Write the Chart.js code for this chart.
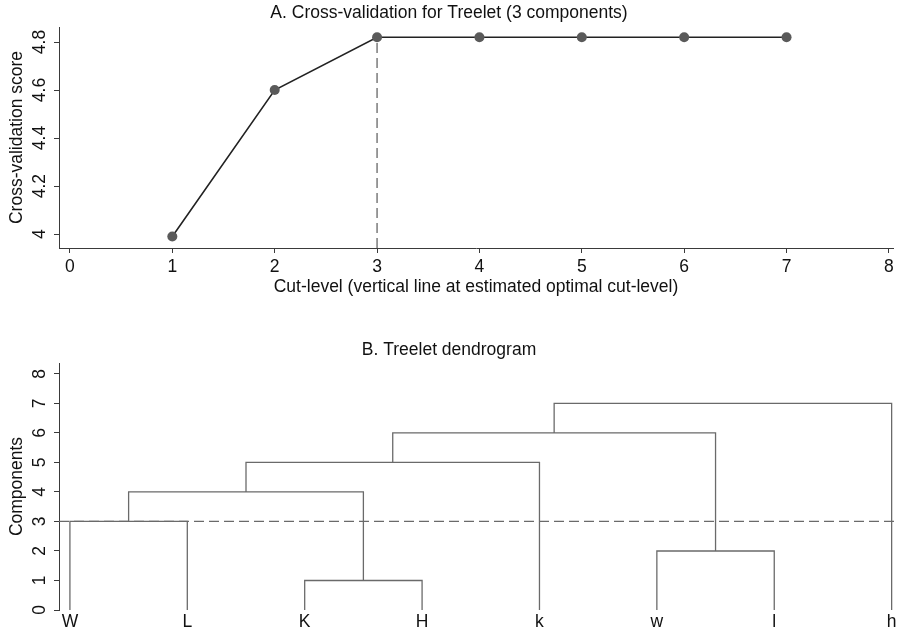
<!DOCTYPE html>
<html>
<head>
<meta charset="utf-8">
<script src="https://cdn.jsdelivr.net/npm/chart.js@4.4.1/dist/chart.umd.min.js"></script>
<style>
  body { margin: 0; background: #fff; }
  #wrap { position: relative; width: 898px; height: 634px; }
  canvas { position: absolute; left: 0; }
  #cvChart { top: 0; }
  #treeChart { top: 300px; }
</style>
</head>
<body>
<div id="wrap">
  <canvas id="cvChart" width="898" height="300"></canvas>
  <canvas id="treeChart" width="898" height="334"></canvas>
</div>
<script>
// Panel A: cross-validation scores per cut-level
const cvCutLevels = [1, 2, 3, 4, 5, 6, 7];
const cvScores = [3.99, 4.6, 4.82, 4.82, 4.82, 4.82, 4.82];
const optimalCut = 3;
const cutTicks = [0, 1, 2, 3, 4, 5, 6, 7, 8];
const scoreTicks = [4, 4.2, 4.4, 4.6, 4.8];

// Panel B: treelet dendrogram
const leafLabels = ['W', 'L', 'K', 'H', 'k', 'w', 'l', 'h'];
const mergeLeft = ['K', 'w', 'W', 'm3', 'm4', 'm5', 'm6'];
const mergeRight = ['H', 'l', 'L', 'm1', 'k', 'm2', 'h'];
const mergeHeights = [1, 2, 3, 4, 5, 6, 7];
const componentTicks = [0, 1, 2, 3, 4, 5, 6, 7, 8];

const FONT = "'Liberation Sans', Arial, Helvetica, sans-serif";
const AXIS = '#3a3a3a';
const TEXT = '#111';
const fontMain = { family: FONT, size: 17.5, weight: 'normal' };

Chart.defaults.font.family = FONT;
Chart.defaults.color = TEXT;

// y axis with Stata-style rotated labels
function rotatedY(ticks, title, min, max, pad) {
    return {
        type: 'linear',
        min: min,
        max: max,
        afterBuildTicks: s => { s.ticks = ticks.map(v => ({ value: v })); },
        afterFit: s => { s.width = 59; },
        ticks: {
            minRotation: 90, maxRotation: 90, crossAlign: 'center',
            padding: pad, font: fontMain, color: TEXT,
            callback: v => String(v)
        },
        grid: { drawOnChartArea: false, drawTicks: true, tickLength: 5, color: AXIS, lineWidth: 1 },
        border: { display: true, color: AXIS, width: 1 },
        title: { display: true, text: title, font: fontMain, color: TEXT, padding: { top: 6.5, bottom: 0 } }
    };
}

const ctxCv = document.getElementById('cvChart').getContext('2d');
new Chart(ctxCv, {
    type: 'line',
    data: {
        datasets: [{
            data: cvCutLevels.map((c, i) => ({ x: c, y: cvScores[i] })),
            borderColor: '#222',
            borderWidth: 1.6,
            pointRadius: 5,
            pointBackgroundColor: '#5a5a5a',
            pointBorderWidth: 0,
            tension: 0
        }, {
            // vertical line at the estimated optimal cut-level
            data: [{ x: optimalCut, y: 3.942 }, { x: optimalCut, y: cvScores[cvCutLevels.indexOf(optimalCut)] }],
            borderColor: '#666',
            borderWidth: 1.3,
            borderDash: [10, 5],
            pointRadius: 0
        }]
    },
    options: {
        responsive: false,
        animation: false,
        layout: { padding: 0 },
        plugins: {
            legend: { display: false },
            tooltip: { enabled: false },
            title: {
                display: true,
                text: 'A. Cross-validation for Treelet (3 components)',
                font: fontMain,
                color: TEXT,
                padding: { top: 2.5, bottom: 3.5 }
            }
        },
        scales: {
            x: {
                type: 'linear',
                min: -0.107,
                max: 8.04,
                afterBuildTicks: s => { s.ticks = cutTicks.map(v => ({ value: v })); },
                afterFit: s => { s.height = 52; },
                ticks: { padding: 3.5, font: fontMain, color: TEXT },
                grid: { drawOnChartArea: false, drawTicks: true, tickLength: 5, color: AXIS },
                border: { display: true, color: AXIS, width: 1 },
                title: {
                    display: true,
                    text: 'Cut-level (vertical line at estimated optimal cut-level)',
                    font: fontMain, color: TEXT,
                    padding: { top: 0, bottom: 2.5 }
                }
            },
            y: rotatedY(scoreTicks, 'Cross-validation score', 3.942, 4.8625, 2)
        }
    }
});

// lay out the dendrogram: leaves at their index, merges at midpoint of children
const nodePos = {};
leafLabels.forEach((l, i) => { nodePos[l] = { x: i, y: 0 }; });
const treeSets = [];
mergeHeights.forEach((h, i) => {
    const a = nodePos[mergeLeft[i]];
    const b = nodePos[mergeRight[i]];
    nodePos['m' + (i + 1)] = { x: (a.x + b.x) / 2, y: h };
    treeSets.push({
        data: [{ x: a.x, y: a.y }, { x: a.x, y: h }, { x: b.x, y: h }, { x: b.x, y: b.y }],
        borderColor: '#6a6a6a',
        borderWidth: 1.3,
        pointRadius: 0,
        tension: 0
    });
});
treeSets.push({
    // horizontal line at the chosen number of components
    data: [{ x: -0.093, y: optimalCut }, { x: 7.03, y: optimalCut }],
    borderColor: '#6a6a6a',
    borderWidth: 1.3,
    borderDash: [10, 5],
    pointRadius: 0
});

const ctxTree = document.getElementById('treeChart').getContext('2d');
new Chart(ctxTree, {
    type: 'line',
    data: { datasets: treeSets },
    options: {
        responsive: false,
        animation: false,
        layout: { padding: 0 },
        plugins: {
            legend: { display: false },
            tooltip: { enabled: false },
            title: {
                display: true,
                text: 'B. Treelet dendrogram',
                font: fontMain,
                color: TEXT,
                padding: { top: 39.5, bottom: 2.5 }
            }
        },
        scales: {
            x: {
                type: 'linear',
                min: -0.093,
                max: 7.03,
                afterBuildTicks: s => { s.ticks = leafLabels.map((l, i) => ({ value: i })); },
                afterFit: s => { s.height = 24; },
                ticks: { padding: 1.5, font: fontMain, color: TEXT, callback: v => leafLabels[v] },
                grid: { display: false, drawTicks: false },
                border: { display: false }
            },
            y: rotatedY(componentTicks, 'Components', 0, 8.37, 9)
        }
    }
});
</script>
</body>
</html>
